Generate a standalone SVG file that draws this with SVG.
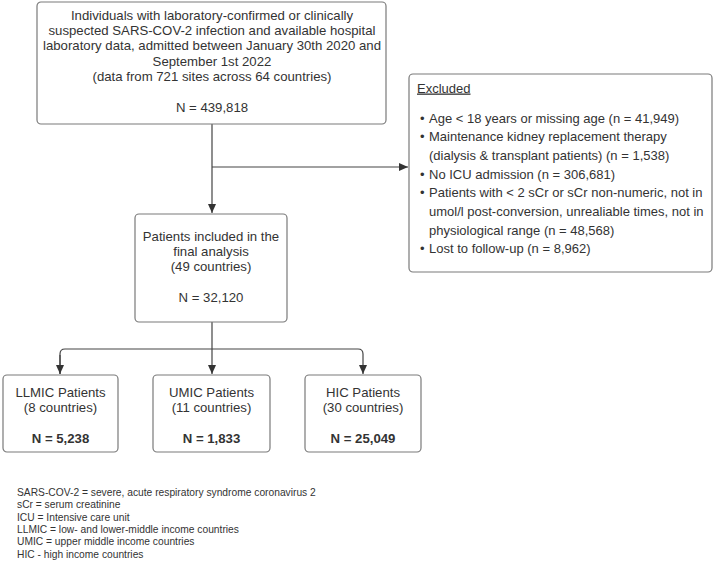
<svg xmlns="http://www.w3.org/2000/svg" width="714" height="561" viewBox="0 0 714 561">
<style>
.box{fill:#fff;stroke:#7a7a7a;stroke-width:1.2}
.t{font-family:"Liberation Sans",Arial,sans-serif;font-size:13.2px;fill:#333}
.x{font-size:13px}
.c{text-anchor:middle}
.b{font-weight:bold}
.lg{font-family:"Liberation Sans",Arial,sans-serif;font-size:10.25px;fill:#333}
.ln{fill:none;stroke:#444;stroke-width:1.2}
</style>
<defs>
<marker id="ah" markerWidth="10" markerHeight="10" refX="9" refY="5" orient="auto" markerUnits="userSpaceOnUse">
<path d="M0,1 L9,5 L0,9 Z" fill="#333"/>
</marker>
</defs>
<rect width="714" height="561" fill="#fff"/>
<g id="connectors">
<path class="ln" d="M212,124 V213" marker-end="url(#ah)"/>
<path class="ln" d="M212,167 H408" marker-end="url(#ah)"/>
<path class="ln" d="M212,322 V374" marker-end="url(#ah)"/>
<path class="ln" d="M60,374 V354 Q60,349 65,349 H358 Q363,349 363,354 V374" marker-end="url(#ah)"/>
<path class="ln" d="M60,355 V374" marker-end="url(#ah)"/>
</g>
<g id="n_source">
<rect class="box" x="37" y="2" width="349" height="122" rx="4"/>
<text class="t c" x="212" y="19.5">Individuals with laboratory-confirmed or clinically</text>
<text class="t c" x="212" y="35">suspected SARS-COV-2 infection and available hospital</text>
<text class="t c" x="212" y="50.3">laboratory data, admitted between January 30th 2020 and</text>
<text class="t c" x="212" y="65.6">September 1st 2022</text>
<text class="t c" x="212" y="81">(data from 721 sites across 64 countries)</text>
<text class="t c" x="212" y="111.5">N = 439,818</text>
</g>
<g id="n_excluded">
<rect class="box" x="409" y="74" width="303" height="198" rx="4"/>
<text class="t x" x="417" y="92.5" text-decoration="underline">Excluded</text>
<g class="t x">
<text x="420" y="122.5">•</text><text x="429" y="122.5">Age &lt; 18 years or missing age (n = 41,949)</text>
<text x="420" y="141">•</text><text x="429" y="141">Maintenance kidney replacement therapy</text>
<text x="429" y="160">(dialysis &amp; transplant patients) (n = 1,538)</text>
<text x="420" y="178.5">•</text><text x="429" y="178.5">No ICU admission (n = 306,681)</text>
<text x="420" y="197">•</text><text x="429" y="197">Patients with &lt; 2 sCr or sCr non-numeric, not in</text>
<text x="429" y="216">umol/l post-conversion, unrealiable times, not in</text>
<text x="429" y="234.5">physiological range (n = 48,568)</text>
<text x="420" y="253">•</text><text x="429" y="253">Lost to follow-up (n = 8,962)</text>
</g>
</g>
<g id="n_final">
<rect class="box" x="135" y="214" width="152" height="108" rx="4"/>
<text class="t c" x="211" y="240.5">Patients included in the</text>
<text class="t c" x="211" y="256">final analysis</text>
<text class="t c" x="211" y="271.3">(49 countries)</text>
<text class="t c" x="211" y="302">N = 32,120</text>
</g>
<g id="n_llmic">
<rect class="box" x="3" y="375" width="115" height="77" rx="4"/>
<text class="t c" x="60.5" y="396.5">LLMIC Patients</text>
<text class="t c" x="60.5" y="412">(8 countries)</text>
<text class="t c b" x="60.5" y="443">N = 5,238</text>
</g>
<g id="n_umic">
<rect class="box" x="153" y="375" width="117" height="77" rx="4"/>
<text class="t c" x="211.5" y="396.5">UMIC Patients</text>
<text class="t c" x="211.5" y="412">(11 countries)</text>
<text class="t c b" x="211.5" y="443">N = 1,833</text>
</g>
<g id="n_hic">
<rect class="box" x="305" y="375" width="116" height="77" rx="4"/>
<text class="t c" x="363" y="396.5">HIC Patients</text>
<text class="t c" x="363" y="412">(30 countries)</text>
<text class="t c b" x="363" y="443">N = 25,049</text>
</g>
<g id="legend" class="lg">
<text x="17" y="495.7">SARS-COV-2 = severe, acute respiratory syndrome coronavirus 2</text>
<text x="17" y="508.1">sCr = serum creatinine</text>
<text x="17" y="520.5">ICU = Intensive care unit</text>
<text x="17" y="532.9">LLMIC = low- and lower-middle income countries</text>
<text x="17" y="545.3">UMIC = upper middle income countries</text>
<text x="17" y="557.7">HIC - high income countries</text>
</g>
</svg>
